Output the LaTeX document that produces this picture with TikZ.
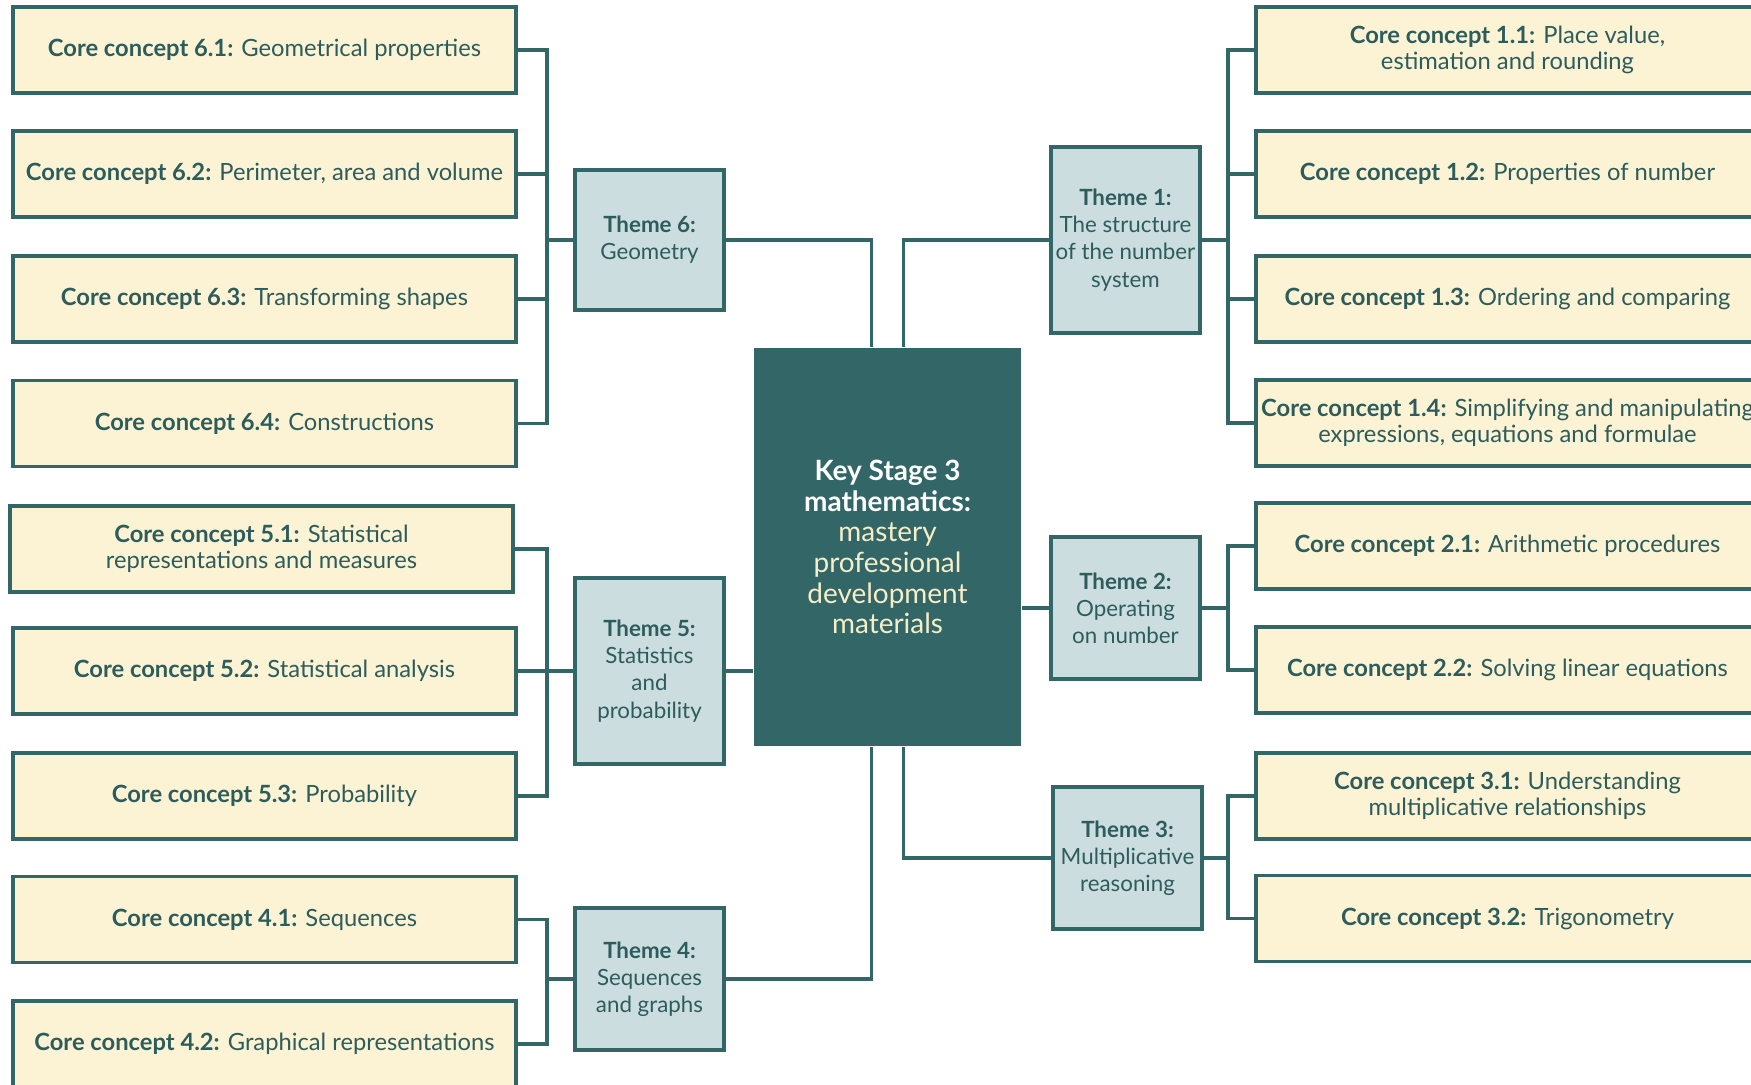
\documentclass[tikz,border=0pt]{standalone}
\usepackage{fontspec}
\setmainfont{Lato}
\usepackage{tikz}
\definecolor{ksteal}{RGB}{51, 102, 102}
\definecolor{kstext}{RGB}{45, 92, 92}
\definecolor{ccyellow}{RGB}{251, 243, 212}
\definecolor{thblue}{RGB}{204, 221, 224}
\definecolor{kscream}{RGB}{246, 238, 200}

\begin{document}
\begin{tikzpicture}[x=0.01cm, y=-0.01cm,
  concept/.style={draw=ksteal, line width=1.1pt, fill=ccyellow, text=kstext, minimum width=5.03cm, minimum height=0.86cm, inner sep=0pt, align=center, font=\fontsize{6.75}{7.4}\selectfont},
  theme/.style={draw=ksteal, line width=1.1pt, fill=thblue, text=kstext, minimum width=1.49cm, inner sep=0pt, align=center, font=\fontsize{6.35}{7.7}\selectfont},
  link/.style={ksteal, line width=1.1pt}]
\useasboundingbox (0,0) rectangle (1751,1084);

% Centre
\node[fill=ksteal, minimum width=2.67cm, minimum height=3.98cm, align=center, font=\fontsize{7.95}{8.7}\selectfont] (ks) at (887.5,547)
  {\textcolor{white}{\bfseries Key Stage 3}\\ \textcolor{white}{\bfseries mathematics:}\\ \textcolor{kscream}{mastery}\\ \textcolor{kscream}{professional}\\ \textcolor{kscream}{development}\\ \textcolor{kscream}{materials}};

% Themes
\node[theme, minimum height=1.40cm] (t6) at (649.5,240) {\textbf{Theme 6:}\\ Geometry};
\node[theme, minimum height=1.86cm] (t5) at (649.5,671) {\textbf{Theme 5:}\\ Statistics\\ and\\ probability};
\node[theme, minimum height=1.42cm] (t4) at (649.5,979) {\textbf{Theme 4:}\\ Sequences\\ and graphs};
\node[theme, minimum height=1.86cm] (t1) at (1125.5,240) {\textbf{Theme 1:}\\ The structure\\ of the number\\ system};
\node[theme, minimum height=1.42cm] (t2) at (1125.5,608) {\textbf{Theme 2:}\\ Operating\\ on number};
\node[theme, minimum height=1.42cm] (t3) at (1127.5,858) {\textbf{Theme 3:}\\ Multiplicative\\ reasoning};

% Core concepts, left
\node[concept] (c61) at (264.5,50) {\textbf{Core concept 6.1:} Geometrical properties};
\node[concept] (c62) at (264.5,174) {\textbf{Core concept 6.2:} Perimeter, area and volume};
\node[concept] (c63) at (264.5,299) {\textbf{Core concept 6.3:} Transforming shapes};
\node[concept] (c64) at (264.5,423.5) {\textbf{Core concept 6.4:} Constructions};
\node[concept] (c51) at (261.5,549) {\textbf{Core concept 5.1:} Statistical\\ representations and measures};
\node[concept] (c52) at (264.5,671) {\textbf{Core concept 5.2:} Statistical analysis};
\node[concept] (c53) at (264.5,796) {\textbf{Core concept 5.3:} Probability};
\node[concept] (c41) at (264.5,919.5) {\textbf{Core concept 4.1:} Sequences};
\node[concept] (c42) at (264.5,1044) {\textbf{Core concept 4.2:} Graphical representations};

% Core concepts, right
\node[concept] (c11) at (1507.5,50) {\textbf{Core concept 1.1:} Place value,\\ estimation and rounding};
\node[concept] (c12) at (1507.5,174) {\textbf{Core concept 1.2:} Properties of number};
\node[concept] (c13) at (1507.5,299) {\textbf{Core concept 1.3:} Ordering and comparing};
\node[concept] (c14) at (1507.5,423) {\textbf{Core concept 1.4:} Simplifying and manipulating\\ expressions, equations and formulae};
\node[concept] (c21) at (1507.5,546) {\textbf{Core concept 2.1:} Arithmetic procedures};
\node[concept] (c22) at (1507.5,670) {\textbf{Core concept 2.2:} Solving linear equations};
\node[concept] (c31) at (1507.5,796) {\textbf{Core concept 3.1:} Understanding\\ multiplicative relationships};
\node[concept] (c32) at (1507.5,918.5) {\textbf{Core concept 3.2:} Trigonometry};

% Bus points
\coordinate (b6) at (547,240);
\coordinate (b5) at (547,671);
\coordinate (b4) at (547,979);
\coordinate (b1) at (1228,240);
\coordinate (b2) at (1228,608);
\coordinate (b3) at (1228,858);

% Centre to themes
\draw[link] (t6.east) -| ([xshift=-0.16cm]ks.north);
\draw[link] (t1.west) -| ([xshift=0.16cm]ks.north);
\draw[link] (t5.east) -- (t5.east -| ks.west);
\draw[link] (t2.west) -- (t2.west -| ks.east);
\draw[link] (t4.east) -| ([xshift=-0.16cm]ks.south);
\draw[link] (t3.west) -| ([xshift=0.16cm]ks.south);

% Themes to core concepts, left
\draw[link] (c61.east) -| (b6) |- (c64.east);
\draw[link] (c62.east) -- (c62.east -| b6);
\draw[link] (c63.east) -- (c63.east -| b6);
\draw[link] (t6.west) -- (b6);
\draw[link] (c51.east) -| (b5) |- (c53.east);
\draw[link] (c52.east) -- (t5.west);
\draw[link] (c41.east) -| (b4) |- (c42.east);
\draw[link] (t4.west) -- (b4);

% Themes to core concepts, right
\draw[link] (c11.west) -| (b1) |- (c14.west);
\draw[link] (c12.west) -- (c12.west -| b1);
\draw[link] (c13.west) -- (c13.west -| b1);
\draw[link] (t1.east) -- (b1);
\draw[link] (c21.west) -| (b2) |- (c22.west);
\draw[link] (t2.east) -- (b2);
\draw[link] (c31.west) -| (b3) |- (c32.west);
\draw[link] (t3.east) -- (b3);
\end{tikzpicture}
\end{document}
